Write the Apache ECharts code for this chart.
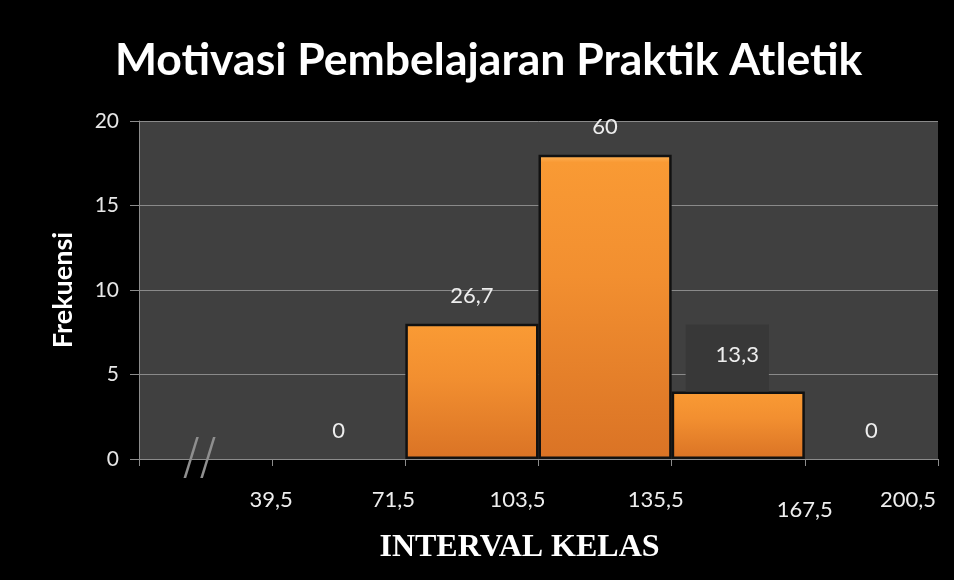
<!DOCTYPE html>
<html>
<head>
<meta charset="utf-8">
<script src="https://cdn.jsdelivr.net/npm/echarts@6/dist/echarts.min.js"></script>
<style>
  html, body { margin: 0; padding: 0; background: #000; }
  #chart { width: 954px; height: 580px; }
</style>
</head>
<body>
<div id="chart"></div>
<script>
// kelas interval (kolom pertama = tanda putus sumbu)
const classes = ['break', '39,5-71,5', '71,5-103,5', '103,5-135,5', '135,5-167,5', '167,5-200,5']
const frequencies = [0, 0, 8, 18, 4, 0]
const percentLabels = ['//', '0', '26,7', '60', '13,3', '0']
const boundaryLabels = ['', '39,5', '71,5', '103,5', '135,5', '167,5', '200,5']
const yMin = 0
const yMax = 20
const yStep = 5

const font = 'Lato, "Open Sans", sans-serif'

const chart = echarts.init(document.getElementById('chart'))

const barData = frequencies.map((v, i) => {
  if (i === 0) {
    // tanda putus "//" di kolom pertama
    return {
      value: v,
      itemStyle: { borderWidth: 0 },
      label: {
        position: 'inside', offset: [-6, 1], fontSize: 50,
        color: '#8f8f8f', fontFamily: 'DejaVu Sans', fontWeight: 200
      }
    }
  }
  if (v === 0) {
    return { value: v, itemStyle: { borderWidth: 0 } }
  }
  if (i === 4) {
    return {
      value: v,
      label: { backgroundColor: '#383838', padding: [20, 10, 25, 30], distance: 0, offset: [-11, 0] }
    }
  }
  return v
})

const option = {
  backgroundColor: '#000',
  title: {
    text: 'Motivasi Pembelajaran Praktik Atletik',
    left: 110,
    top: 33,
    textStyle: { color: '#fff', fontSize: 44.5, fontWeight: 'bold', fontFamily: font }
  },
  grid: {
    left: 139,
    right: 16,
    top: 121,
    bottom: 121,
    show: true,
    backgroundColor: '#404040',
    borderWidth: 0
  },
  xAxis: [
    {
      type: 'category',
      data: classes,
      axisLine: { lineStyle: { color: '#8c8c8c', width: 1 } },
      axisTick: { show: true, length: 7, lineStyle: { color: '#8c8c8c' } },
      axisLabel: { show: false },
      name: 'INTERVAL KELAS',
      nameLocation: 'middle',
      nameGap: 73,
      nameTextStyle: {
        color: '#fff', fontSize: 32, fontWeight: 'bold',
        fontFamily: '"Liberation Serif", serif', padding: [0, 38, 0, 0]
      }
    },
    {
      // label batas kelas di garis tick
      type: 'value',
      position: 'bottom',
      min: 0,
      max: 6,
      interval: 1,
      axisLine: { show: false },
      axisTick: { show: false },
      splitLine: { show: false },
      axisLabel: {
        margin: 30,
        showMinLabel: true,
        showMaxLabel: true,
        formatter: (val) => '{s' + val + '|' + boundaryLabels[val] + '}',
        rich: {
          s0: {},
          s1: { padding: [0, 2, 0, 0] },
          s2: { padding: [0, 24, 0, 0] },
          s3: { padding: [0, 42, 0, 0] },
          s4: { padding: [0, 32, 0, 0] },
          s5: { padding: [10, 0, 0, 0] },
          s6: { padding: [0, 60, 0, 0] }
        },
        color: '#eeeeee',
        fontSize: 22,
        fontFamily: font
      }
    }
  ],
  yAxis: {
    type: 'value',
    min: yMin,
    max: yMax,
    interval: yStep,
    name: 'Frekuensi',
    nameLocation: 'middle',
    nameGap: 62,
    nameTextStyle: { color: '#fff', fontSize: 27, fontWeight: 'bold', fontFamily: font },
    axisLine: { show: true, lineStyle: { color: '#8c8c8c' } },
    axisTick: { show: true, length: 9, lineStyle: { color: '#8c8c8c' } },
    splitLine: { lineStyle: { color: '#8a8a8a', width: 1 } },
    axisLabel: { color: '#e6e6e6', fontSize: 21, margin: 20, fontFamily: font }
  },
  series: [
    {
      type: 'bar',
      xAxisIndex: 0,
      data: barData,
      barWidth: '100%',
      barCategoryGap: 0,
      itemStyle: {
        color: new echarts.graphic.LinearGradient(0, 0, 0, 1, [
          { offset: 0, color: '#FFB55A' },
          { offset: 0.025, color: '#F99A34' },
          { offset: 0.4, color: '#F28F30' },
          { offset: 1, color: '#DA7325' }
        ]),
        borderColor: '#111',
        borderWidth: 2.5
      },
      label: {
        show: true,
        position: 'top',
        distance: 17,
        color: '#eeeeee',
        fontSize: 22,
        fontFamily: font,
        formatter: (p) => percentLabels[p.dataIndex]
      }
    }
  ]
}

chart.setOption(option)
</script>
</body>
</html>
